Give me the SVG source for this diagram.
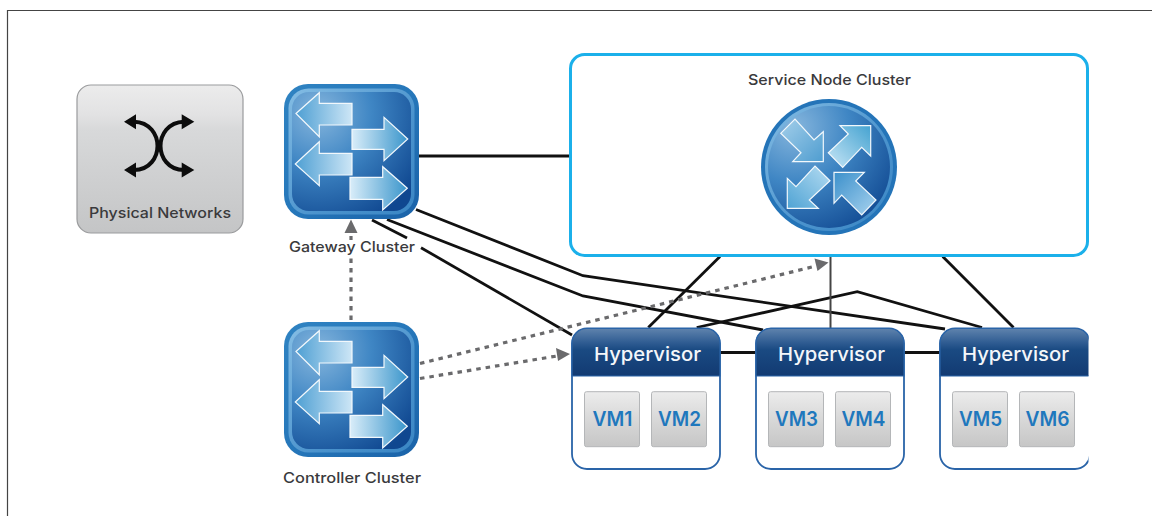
<svg xmlns="http://www.w3.org/2000/svg" xmlns:xlink="http://www.w3.org/1999/xlink" width="1152" height="516" viewBox="0 0 1152 516">
<style>
.lbl{font-family:Inter,"Open Sans",sans-serif;font-size:14.5px;font-weight:500;fill:#3a3a3c;text-anchor:middle}
.hv{font-family:Inter,"Open Sans",sans-serif;font-size:19px;font-weight:500;fill:#f4f7fa;text-anchor:middle}
.vm{font-family:Inter,"Open Sans",sans-serif;font-size:20px;font-weight:600;fill:#1f78bd;text-anchor:middle}
.ln{fill:none;stroke:#111;stroke-width:2.8}
.dot{fill:none;stroke:#6a6a6c;stroke-width:3.2;stroke-dasharray:4.5 5}
.head{fill:#6a6a6c}
.vmb{fill:url(#vmg);stroke:#b4b6b8;stroke-width:1}
.hvb{fill:#fff;stroke:#2a64a8;stroke-width:1.8}
.ar{stroke:#f2f8fc;stroke-width:1.2;stroke-linejoin:miter}
</style>
<defs>
<linearGradient id="outer" x1="0" y1="0" x2="1" y2="1"><stop offset="0" stop-color="#2f83c2"/><stop offset=".5" stop-color="#2677ba"/><stop offset="1" stop-color="#1a62a8"/></linearGradient>
<linearGradient id="rim" x1="0" y1="0" x2="1" y2="1"><stop offset="0" stop-color="#84bde4"/><stop offset=".6" stop-color="#4b93cd"/><stop offset="1" stop-color="#3a86c4"/></linearGradient>
<radialGradient id="inner" cx=".22" cy=".18" r="1"><stop offset="0" stop-color="#86b6dd"/><stop offset=".45" stop-color="#3f86c4"/><stop offset="1" stop-color="#0f4790"/></radialGradient>
<linearGradient id="al" x1="0" y1="0" x2="1" y2="0"><stop offset="0" stop-color="#4e9fd3"/><stop offset="1" stop-color="#cde6f6"/></linearGradient>
<linearGradient id="ar" x1="0" y1="0" x2="1" y2="0"><stop offset="0" stop-color="#d9edf9"/><stop offset="1" stop-color="#3a95cb"/></linearGradient>
<linearGradient id="a1" x1="0" y1="0" x2="1" y2="1"><stop offset="0" stop-color="#a4cfea"/><stop offset="1" stop-color="#4f9dd0"/></linearGradient>
<linearGradient id="a2" x1="0" y1="1" x2="1" y2="0"><stop offset="0" stop-color="#c8e6f6"/><stop offset="1" stop-color="#45a3d1"/></linearGradient>
<linearGradient id="a3" x1="1" y1="0" x2="0" y2="1"><stop offset="0" stop-color="#b5dcf2"/><stop offset="1" stop-color="#4fa3d4"/></linearGradient>
<linearGradient id="a4" x1="0" y1="0" x2="1" y2="1"><stop offset="0" stop-color="#3c90cb"/><stop offset="1" stop-color="#a8d3ef"/></linearGradient>
<linearGradient id="gray" x1="0" y1="0" x2="0" y2="1"><stop offset="0" stop-color="#ececec"/><stop offset=".2" stop-color="#e2e2e3"/><stop offset=".3" stop-color="#d8d9da"/><stop offset="1" stop-color="#c4c5c6"/></linearGradient>
<linearGradient id="vmg" x1="0" y1="0" x2="0" y2="1"><stop offset="0" stop-color="#ececec"/><stop offset=".45" stop-color="#dadada"/><stop offset="1" stop-color="#c6c6c6"/></linearGradient>
<linearGradient id="hdr" x1="0" y1="0" x2="0" y2="1"><stop offset="0" stop-color="#5f83ad"/><stop offset=".3" stop-color="#2f5c92"/><stop offset=".45" stop-color="#1a4a82"/><stop offset="1" stop-color="#123a72"/></linearGradient>
<clipPath id="cut"><rect x="0" y="0" width="1088.5" height="516"/></clipPath>
<g id="sw">
<rect x="284" y="84" width="135" height="135" rx="24" fill="url(#outer)"/>
<rect x="288.5" y="88.5" width="126" height="126" rx="20" fill="url(#rim)"/>
<rect x="292" y="92" width="119" height="119" rx="17" fill="url(#inner)"/>
<polygon class="ar" fill="url(#al)" points="296,113.5 319.3,92.7 319.3,103.3 352,103.3 352,125 319.3,125 319.3,136.7"/>
<polygon class="ar" fill="url(#ar)" points="407.7,139 384,117.3 384,129.3 352,129.3 352,149.3 384,149.3 384,160.7"/>
<polygon class="ar" fill="url(#al)" points="295.3,164 319.3,141.7 319.3,153.3 352,153.3 352,175 319.3,175 319.3,185.7"/>
<polygon class="ar" fill="url(#ar)" points="407.3,188.3 382.7,166.7 382.7,177.3 350,177.3 350,199.3 382.7,199.3 382.7,210"/>
</g>
</defs>
<rect width="1152" height="516" fill="#fff"/>
<path d="M7.5 516V10.5H1152" fill="none" stroke="#444" stroke-width="1.2"/>

<g id="connectors">
<path class="ln" d="M419 156H570"/>
<path class="ln" d="M416 209.5L583 275.7L945 329"/>
<path class="ln" d="M387 219.5L583 296L763 330"/>
<path class="ln" d="M372 220L407 238"/>
<path class="ln" d="M421 247.7L572 335"/>
<path class="ln" d="M696.7 327.5L857.3 291.7L982 327.5"/>
<path class="ln" d="M720 256.5L648.3 327.5"/>
<path d="M830.5 256V328" fill="none" stroke="#444" stroke-width="2"/>
<path class="ln" d="M942.7 256.5L1013.5 327.5"/>
<path class="ln" d="M720 352.5H756M904 352.5H940"/>
<path class="dot" d="M351 320V258"/>
<path class="dot" d="M351 240V236"/>
<polygon class="head" points="351,219.5 344.5,233 357.5,233"/>
<path class="dot" d="M420 363.5L816 266"/>
<polygon class="head" points="828.5,262.5 814.5,258.5 817.5,271"/>
<path class="dot" d="M420 378.5L557 356"/>
<polygon class="head" points="570,354 556,348 558,361"/>
</g>

<g id="physical-networks">
<rect x="77" y="85" width="166" height="148" rx="14" fill="url(#gray)" stroke="#9a9b9d" stroke-width="1.2"/>
<path d="M134 121.7C150 122 157.5 135 157.5 146C157.5 157 150 170 134 170M184 121.7C168 122 160.5 135 160.5 146C160.5 157 168 170 184 170" fill="none" stroke="#0c0c0c" stroke-width="4"/>
<path d="M124 121.7L136 114.3V129.3ZM194.3 121.7L181.7 114.3V129.3ZM124 170L136 162.5V177.5ZM194.3 170L181.7 162.5V177.5Z" fill="#0c0c0c"/>
<text class="lbl" x="160" y="218" textLength="142" lengthAdjust="spacingAndGlyphs">Physical Networks</text>
</g>

<g id="gateway-cluster">
<use href="#sw" xlink:href="#sw"/>
<text class="lbl" x="352" y="252" textLength="126" lengthAdjust="spacingAndGlyphs">Gateway Cluster</text>
</g>

<g id="controller-cluster">
<use href="#sw" xlink:href="#sw" y="238"/>
<text class="lbl" x="352" y="483" textLength="138" lengthAdjust="spacingAndGlyphs">Controller Cluster</text>
</g>

<g id="service-node-cluster">
<rect x="570.5" y="54.5" width="517" height="201" rx="14" fill="#fff" stroke="#1bb0ea" stroke-width="3"/>
<text class="lbl" x="829.5" y="85" textLength="163" lengthAdjust="spacingAndGlyphs">Service Node Cluster</text>
<circle cx="829" cy="167" r="68" fill="#2474b8"/>
<circle cx="829" cy="167" r="64" fill="url(#rim)"/>
<circle cx="829" cy="167" r="61" fill="url(#inner)"/>
<polygon class="ar" fill="url(#a1)" points="780.7,133.3 795,119 814,140 823.3,131.7 823.3,161.7 792.7,161.7 801,152.7"/>
<polygon class="ar" fill="url(#a2)" points="870.7,125.7 870.7,156 861.7,147.3 842.7,167.3 828.3,152.7 848.3,134 840,125.7"/>
<polygon class="ar" fill="url(#a3)" points="787.3,208.3 787.3,178.3 796,186.7 815,166 830,180.7 809.3,200 818.3,208.3"/>
<polygon class="ar" fill="url(#a4)" points="834,172.3 864.3,172.3 855.7,181 876,200 861.7,215 841.7,195 834,203.3"/>
</g>

<g id="hypervisor-1">
<rect class="hvb" x="572" y="328.5" width="148" height="140.5" rx="15"/>
<path d="M572 376V343.5a15 15 0 0 1 15-15H705a15 15 0 0 1 15 15V376Z" fill="url(#hdr)" stroke="#2a64a8" stroke-width="1.2"/>
<text class="hv" x="647.5" y="361" textLength="107" lengthAdjust="spacingAndGlyphs">Hypervisor</text>
<rect class="vmb" x="584.5" y="391.7" width="55" height="55" rx="2"/>
<rect class="vmb" x="651.5" y="391.7" width="55" height="55" rx="2"/>
<text class="vm" x="612.5" y="426" textLength="40" lengthAdjust="spacingAndGlyphs">VM1</text>
<text class="vm" x="679.5" y="426" textLength="43" lengthAdjust="spacingAndGlyphs">VM2</text>
</g>
<g id="hypervisor-2">
<rect class="hvb" x="756" y="328.5" width="148" height="140.5" rx="15"/>
<path d="M756 376V343.5a15 15 0 0 1 15-15H889a15 15 0 0 1 15 15V376Z" fill="url(#hdr)" stroke="#2a64a8" stroke-width="1.2"/>
<text class="hv" x="831.5" y="361" textLength="107" lengthAdjust="spacingAndGlyphs">Hypervisor</text>
<rect class="vmb" x="768.5" y="391.7" width="55" height="55" rx="2"/>
<rect class="vmb" x="835.5" y="391.7" width="55" height="55" rx="2"/>
<text class="vm" x="796.5" y="426" textLength="43" lengthAdjust="spacingAndGlyphs">VM3</text>
<text class="vm" x="863.5" y="426" textLength="44" lengthAdjust="spacingAndGlyphs">VM4</text>
</g>
<g id="hypervisor-3" clip-path="url(#cut)">
<rect class="hvb" x="940" y="328.5" width="150" height="140.5" rx="15"/>
<path d="M940 376V343.5a15 15 0 0 1 15-15H1075a15 15 0 0 1 15 15V376Z" fill="url(#hdr)" stroke="#2a64a8" stroke-width="1.2"/>
<text class="hv" x="1015.5" y="361" textLength="107" lengthAdjust="spacingAndGlyphs">Hypervisor</text>
<rect class="vmb" x="952.5" y="391.7" width="55" height="55" rx="2"/>
<rect class="vmb" x="1019.5" y="391.7" width="55" height="55" rx="2"/>
<text class="vm" x="980.5" y="426" textLength="43" lengthAdjust="spacingAndGlyphs">VM5</text>
<text class="vm" x="1047.5" y="426" textLength="44" lengthAdjust="spacingAndGlyphs">VM6</text>
</g>
</svg>
